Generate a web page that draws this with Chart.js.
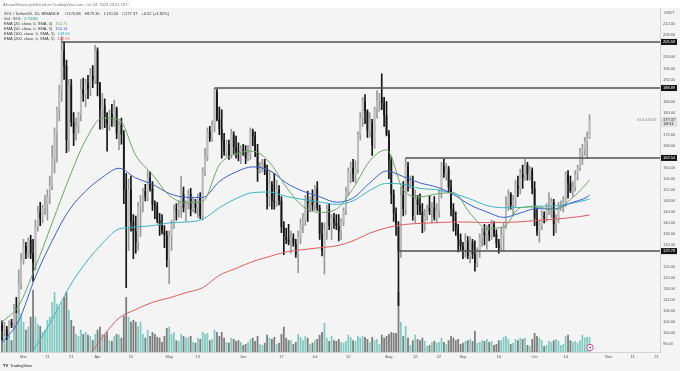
<!DOCTYPE html>
<html>
<head>
<meta charset="utf-8">
<script src="https://cdn.jsdelivr.net/npm/chart.js@4.4.0/dist/chart.umd.min.js"></script>
<style>
  html, body { margin: 0; padding: 0; background: #ffffff; }
</style>
</head>
<body>
<canvas id="myChart" width="680" height="371"></canvas>
<script>
// SOL / USDT daily candles, Feb 21 - Oct 24 2024
const opens = [
  103.0,100.8,101.5,99.0,103.8,102.8,109.0,108.8,118.0,126.5,
  131.5,129.2,133.8,129.0,125.5,138.5,144.0,141.5,145.5,146.5,
  149.5,153.5,163.5,172.5,181.0,188.0,202.5,197.0,170.0,190.0,
  176.5,172.5,175.0,179.5,188.5,186.5,190.5,188.5,193.5,191.5,
  202.5,190.5,181.0,182.5,178.5,176.0,179.5,177.5,181.5,172.5,
  175.5,172.0,152.0,138.5,152.0,140.5,137.0,133.0,146.0,147.5,
  151.5,149.5,156.5,152.5,146.5,146.0,141.0,139.0,137.0,135.5,
  126.5,135.0,139.5,145.0,144.5,146.0,150.5,145.5,147.0,150.5,
  145.0,147.0,145.5,149.5,142.5,158.5,164.0,173.0,170.5,175.5,
  187.5,177.5,174.0,170.0,166.0,168.5,164.5,172.0,167.5,166.0,
  165.5,166.5,166.0,163.5,165.0,173.0,171.5,166.0,159.5,160.5,
  161.5,159.5,149.5,154.0,148.0,147.5,152.0,148.0,138.5,135.0,
  134.0,133.0,134.5,132.5,128.5,135.0,139.5,141.0,148.5,147.0,
  148.5,146.5,152.5,145.5,136.0,130.0,137.5,145.0,139.0,141.5,
  140.0,139.0,137.0,140.5,144.5,151.5,158.5,160.0,157.5,159.5,
  172.0,178.0,184.0,180.5,173.5,176.5,168.0,181.5,184.5,185.5,
  183.5,179.0,172.0,162.5,150.5,143.5,138.5,129.8,150.0,145.0,
  160.5,155.0,155.5,142.5,148.5,146.5,144.0,140.0,142.5,145.5,
  144.0,145.5,142.0,144.5,151.0,160.5,158.0,159.5,153.0,145.0,
  140.0,138.0,134.0,131.5,130.0,133.5,128.0,133.0,128.5,125.5,
  129.5,134.5,136.5,135.5,137.0,135.5,139.5,136.0,132.5,131.0,
  135.5,138.5,146.0,150.5,146.5,148.0,153.5,152.5,157.5,156.5,
  161.0,157.5,159.0,152.5,141.5,137.0,139.0,142.5,142.0,145.5,
  146.0,147.5,139.5,141.5,146.0,146.5,147.5,157.5,154.5,151.5,
  153.0,157.5,160.0,165.5,166.5,169.5,170.86
];
const highs = [
  104.5,104.0,102.5,104.5,105.0,110.5,113.0,123.0,129.0,134.0,
  133.0,134.5,135.5,134.0,141.0,146.0,147.5,146.5,150.0,152.0,
  157.0,168.0,174.5,182.0,190.0,207.5,205.6,199.0,192.0,192.0,
  180.0,178.0,180.0,192.0,192.5,192.0,193.5,196.0,197.0,204.5,
  203.5,191.0,187.0,185.0,180.0,181.0,183.0,184.5,182.0,177.0,
  178.0,173.5,158.0,156.0,157.0,143.0,142.5,147.5,150.0,152.5,
  154.0,159.0,158.5,155.0,148.0,147.5,143.5,143.0,139.0,137.0,
  137.0,141.0,146.5,147.0,148.0,157.0,153.0,148.0,152.0,152.5,
  149.0,148.5,150.5,151.0,160.0,167.0,174.5,175.0,177.0,188.9,
  188.5,182.0,181.0,172.5,170.0,170.0,174.0,173.0,171.5,169.0,
  168.0,168.5,168.0,168.0,174.5,174.0,173.0,168.5,162.0,163.0,
  163.0,161.0,159.0,155.0,158.0,155.5,153.5,149.5,140.5,138.0,
  139.5,137.0,136.0,134.0,137.0,141.5,143.5,150.0,151.5,149.5,
  152.0,153.5,155.0,146.5,140.0,140.0,146.5,147.0,143.0,143.5,
  143.0,143.0,141.5,145.5,153.0,160.0,162.0,163.0,162.5,173.0,
  180.0,185.5,186.5,181.0,180.0,177.5,182.0,188.0,187.0,194.0,
  185.5,184.0,173.5,164.0,152.0,145.5,140.5,153.0,155.0,163.5,
  162.0,157.0,157.0,152.0,150.0,150.5,147.0,145.0,146.5,150.0,
  147.5,149.5,147.0,152.0,162.0,163.0,161.5,160.5,155.5,147.0,
  144.0,139.5,136.0,133.0,136.0,135.0,135.0,134.0,133.5,131.0,
  136.0,138.0,139.5,139.0,139.5,141.0,140.5,137.5,134.0,138.5,
  140.0,149.5,152.0,151.0,150.0,155.5,157.0,159.5,161.0,163.0,
  162.0,160.5,160.0,155.0,145.5,141.0,144.5,144.0,147.0,151.0,
  149.0,148.5,143.0,147.5,148.0,149.5,158.5,159.0,157.0,155.0,
  159.0,161.0,167.0,168.5,171.0,173.0,179.3
];
const lows = [
  97.5,99.0,97.8,98.5,102.0,101.5,107.5,107.0,116.0,125.0,
  127.0,127.5,127.0,118.8,123.0,137.0,139.0,140.0,143.0,141.0,
  147.0,152.0,158.0,162.0,177.0,184.0,192.0,165.5,166.0,175.0,
  168.0,170.0,172.5,177.0,184.0,182.0,185.0,186.0,189.0,190.5,
  186.0,174.0,174.0,174.5,166.0,173.5,175.0,175.0,170.5,166.5,
  168.5,147.0,116.5,130.0,137.0,127.0,129.0,130.0,135.0,144.0,
  148.0,148.0,151.5,144.5,141.5,140.0,135.5,136.0,131.0,124.0,
  118.0,130.0,138.0,141.0,142.0,142.0,144.0,140.5,145.0,142.5,
  144.0,143.5,142.0,141.5,141.0,157.0,162.5,169.5,169.5,173.0,
  177.0,172.0,163.5,164.5,164.0,163.0,163.5,165.0,163.5,162.5,
  161.5,164.5,161.5,162.5,163.0,168.0,164.0,155.0,158.0,158.5,
  157.5,145.0,146.0,145.0,145.0,146.0,146.5,136.5,128.5,132.5,
  132.0,129.0,131.5,127.5,122.0,132.5,136.5,139.0,140.5,144.0,
  144.5,144.5,144.5,134.0,128.0,121.5,134.0,137.5,134.0,138.0,
  137.5,133.5,134.0,139.0,143.0,150.0,154.5,155.0,154.5,158.0,
  170.0,175.0,176.0,171.0,171.0,164.5,167.0,178.0,180.5,181.0,
  175.0,171.5,156.0,147.0,140.5,135.5,110.0,127.5,142.5,143.0,
  151.5,152.5,141.0,140.0,143.0,143.0,136.5,137.0,141.0,143.0,
  140.0,141.0,140.0,142.0,149.0,156.5,155.5,151.0,142.5,137.0,
  135.5,129.5,130.0,127.0,127.5,127.0,125.5,127.0,122.5,124.0,
  127.5,131.5,132.0,130.5,133.5,134.0,135.0,131.0,129.0,130.0,
  130.0,138.0,144.5,145.0,142.5,146.0,149.5,150.5,152.5,155.5,
  155.5,155.5,150.5,139.0,135.5,133.0,137.5,140.0,140.5,143.0,
  142.0,135.5,136.5,140.0,144.5,144.0,146.0,149.0,151.0,149.5,
  151.5,155.5,159.0,161.0,164.5,163.5,170.5
];
const closes = [
  100.8,101.5,99.0,103.8,102.8,109.0,108.8,118.0,126.5,131.5,
  129.2,133.8,129.0,125.5,138.5,144.0,141.5,145.5,146.5,149.5,
  153.5,163.5,172.5,181.0,188.0,202.5,197.0,170.0,190.0,176.5,
  172.5,175.0,179.5,188.5,186.5,190.5,188.5,193.5,191.5,202.5,
  190.5,181.0,182.5,178.5,176.0,179.5,177.5,181.5,172.5,175.5,
  172.0,152.0,138.5,152.0,140.5,137.0,133.0,146.0,147.5,151.5,
  149.5,156.5,152.5,146.5,146.0,141.0,139.0,137.0,135.5,126.5,
  135.0,139.5,145.0,144.5,146.0,150.5,145.5,147.0,150.5,145.0,
  147.0,145.5,149.5,142.5,158.5,164.0,173.0,170.5,175.5,187.5,
  177.5,174.0,170.0,166.0,168.5,164.5,172.0,167.5,166.0,165.5,
  166.5,166.0,163.5,165.0,173.0,171.5,166.0,159.5,160.5,161.5,
  159.5,149.5,154.0,148.0,147.5,152.0,148.0,138.5,135.0,134.0,
  133.0,134.5,132.5,128.5,135.0,139.5,141.0,148.5,147.0,148.5,
  146.5,152.5,145.5,136.0,130.0,137.5,145.0,139.0,141.5,140.0,
  139.0,137.0,140.5,144.5,151.5,158.5,160.0,157.5,159.5,172.0,
  178.0,184.0,180.5,173.5,176.5,168.0,181.5,184.5,185.5,183.5,
  179.0,172.0,162.5,150.5,143.5,138.5,129.8,150.0,145.0,160.5,
  155.0,155.5,142.5,148.5,146.5,144.0,140.0,142.5,145.5,144.0,
  145.5,142.0,144.5,151.0,160.5,158.0,159.5,153.0,145.0,140.0,
  138.0,134.0,131.5,130.0,133.5,128.0,133.0,128.5,125.5,129.5,
  134.5,136.5,135.5,137.0,135.5,139.5,136.0,132.5,131.0,135.5,
  138.5,146.0,150.5,146.5,148.0,153.5,152.5,157.5,156.5,161.0,
  157.5,159.0,152.5,141.5,137.0,139.0,142.5,142.0,145.5,146.0,
  147.5,139.5,141.5,146.0,146.5,147.5,157.5,154.5,151.5,153.0,
  157.5,160.0,165.5,166.5,169.5,170.86,177.37
];
// volume, millions of SOL
const volumes = [
  3.9,4.7,3.7,5.2,3.1,7.9,10.5,13.1,10.0,7.9,
  5.8,6.6,9.2,16.2,9.2,7.3,6.8,5.2,5.8,8.4,
  9.2,13.1,15.7,12.6,11.8,13.1,14.4,15.7,11.0,8.4,
  6.8,4.7,4.2,5.8,4.7,5.2,4.5,4.2,3.1,4.7,
  5.8,6.6,4.7,4.5,5.2,3.1,2.9,4.2,4.7,4.5,
  3.7,9.4,14.4,9.2,7.9,8.4,7.9,6.8,7.9,4.7,
  3.7,5.8,4.2,5.2,4.7,3.9,3.7,2.6,4.2,6.3,
  6.6,4.7,5.2,3.1,2.9,4.7,4.2,3.7,3.9,4.2,
  2.6,2.4,3.7,3.4,5.2,4.7,5.0,3.1,3.4,5.8,
  5.2,4.2,5.2,3.7,2.6,2.4,3.7,3.4,2.9,3.1,
  2.6,1.8,2.1,2.6,3.4,3.7,2.9,4.2,2.1,1.8,
  2.4,4.5,3.7,3.4,3.9,2.1,2.4,4.7,6.6,3.7,
  3.1,3.1,2.1,2.6,4.7,3.9,3.1,4.2,3.7,2.1,
  2.4,3.1,3.4,4.5,5.2,7.6,3.7,2.9,4.2,3.1,
  2.9,3.4,2.6,2.4,2.9,4.5,3.9,3.1,2.9,4.2,
  3.7,4.2,3.9,3.4,2.6,3.9,3.1,3.4,2.1,4.5,
  3.7,4.2,4.7,5.2,5.0,5.0,15.7,7.9,4.2,6.8,
  3.7,1.8,3.1,4.5,3.4,3.1,3.7,2.9,1.6,1.8,
  2.6,2.9,2.4,2.6,3.7,2.6,2.1,3.1,4.2,3.7,
  3.1,3.4,2.1,2.4,2.9,3.1,3.4,2.9,5.5,2.4,
  2.6,3.1,2.9,3.4,2.6,2.9,1.8,2.1,3.1,3.1,
  3.9,4.2,3.4,2.1,2.4,3.4,3.1,3.7,3.4,3.7,
  1.8,1.6,3.4,5.0,4.2,3.7,3.1,1.6,1.8,2.9,
  2.6,3.1,3.4,2.9,1.8,2.1,4.2,4.5,3.1,2.6,
  2.9,2.4,3.1,4.5,3.7,3.9,3.933
];

// EMA lines, every 7th bar
const emaIdx = [0,7,14,21,28,35,42,49,56,63,70,77,84,91,98,105,112,119,126,133,
  140,147,154,161,168,175,182,189,196,203,210,217,224,231,238,245,246];
const ema20 = [104,110,124,140,156,170,178,177.5,164.5,157.5,150,147.3,147.8,161,165,166,162,153,146,143.8,
  145,152.5,162.5,166.5,152,149.4,150.5,151,143.5,138,138.5,145.5,145.8,144.7,148.5,154.5,155.71];
const ema50 = [96.5,104.5,120.5,133.5,144.5,151.5,156.5,159.8,156.3,154,150.7,149.3,149.2,155,158.5,160.3,159,154.5,151.5,149.5,
  147.5,149,154.5,158.8,156.8,154.5,153,150.3,146.5,144,142,143.6,145.2,145,147.2,149.4,150.14];
const ema100 = [null,86,95,105,116.5,125.5,132.5,137.8,138.5,139,140,140.3,141.3,145.5,148.8,151,151.2,149.6,148.5,147.6,
  146.7,148,151.8,154.3,154,152.5,152,150.6,148.7,146.3,145.5,145.6,146.1,146.1,147,148.4,148.63];
const ema200 = [null,null,null,null,null,90,98.5,105.5,108.6,111.2,112.8,114.7,116.5,121,123.5,126,127.8,129.5,130.3,131,
  131.7,133.5,136.3,138.2,139.4,139.8,140.1,140.3,140.3,140.1,140.2,140.4,140.9,141.3,141.9,142.7,142.9];

// horizontal levels drawn on the chart
const levelValues = [205.59, 188.89, 163.54, 129.78];
const levelStarts = ['2024-03-17', '2024-05-20', '2024-08-08', '2024-08-05'];

// axis ticks
const yTicks = [96,100,104,108,112,116,120,124,132,136,140,144,148,152,156,160,168,172,180,184,192,196,200,208,212];
const xTickText = {
  '2024-03-01': 'Mar', '2024-03-11': '11', '2024-03-21': '21', '2024-04-01': 'Apr', '2024-04-15': '15',
  '2024-05-01': 'May', '2024-05-13': '13', '2024-06-01': 'Jun', '2024-06-17': '17', '2024-07-01': 'Jul',
  '2024-07-15': '15', '2024-08-01': 'Aug', '2024-08-12': '12', '2024-08-22': '22', '2024-09-01': 'Sep',
  '2024-09-16': '16', '2024-10-01': 'Oct', '2024-10-14': '14', '2024-11-01': 'Nov', '2024-11-11': '11',
  '2024-11-21': '21'
};

// one category per day, Feb 21 to Nov 22
const dates = [];
for (let d = new Date(Date.UTC(2024, 1, 21)); dates.length < 276; d.setUTCDate(d.getUTCDate() + 1)) {
  dates.push(d.toISOString().slice(0, 10));
}

const FONT = '"Liberation Sans", Arial, sans-serif';
const upBody = '#bdbdbd', upWick = '#9a9a9a', down = '#161616';
const isUp = closes.map((c, i) => c >= opens[i]);

const emaPoints = vals => emaIdx.map((k, j) => ({x: dates[k], y: vals[j]})).filter(p => p.y !== null);

const overlay = {
  id: 'overlay',
  beforeDraw(chart) {
    const {ctx, chartArea: a} = chart;
    ctx.save();
    ctx.fillStyle = '#f4f4f4';
    ctx.fillRect(0, a.top, chart.width, chart.height - a.top);
    ctx.restore();
  },
  afterDatasetsDraw(chart) {
    const {ctx, chartArea: a, scales: {x, y}} = chart;
    ctx.save();
    // price levels
    ctx.strokeStyle = '#505050';
    ctx.lineWidth = 1.5;
    levelValues.forEach((v, k) => {
      const py = y.getPixelForValue(v);
      const px = x.getPixelForValue(dates.indexOf(levelStarts[k]));
      ctx.beginPath();
      ctx.moveTo(px, py);
      ctx.lineTo(a.right, py);
      ctx.stroke();
    });
    // axis tags
    ctx.font = '4px ' + FONT;
    ctx.textBaseline = 'middle';
    ctx.textAlign = 'left';
    levelValues.forEach(v => {
      const py = y.getPixelForValue(v);
      ctx.fillStyle = '#131313';
      ctx.fillRect(a.right + 1, py - 3, 16, 6);
      ctx.fillStyle = '#ffffff';
      ctx.fillText(v.toFixed(2), a.right + 3, py);
    });
    const last = closes[closes.length - 1];
    const ly = y.getPixelForValue(last);
    ctx.fillStyle = '#dedede';
    ctx.fillRect(a.right + 1, ly - 3, 16, 10);
    ctx.fillStyle = '#333333';
    ctx.fillText(last.toFixed(2), a.right + 3, ly);
    ctx.fillText('08:11', a.right + 4, ly + 4.5);
    ctx.fillStyle = '#888888';
    ctx.textAlign = 'right';
    ctx.fillText('SOL/USDT', a.right - 3, ly);
    ctx.textAlign = 'left';
    ctx.fillStyle = '#555555';
    ctx.fillText('USDT', a.right + 4, 12.5);

    // title and legend
    ctx.fillStyle = '#777777';
    ctx.font = '4px ' + FONT;
    ctx.fillText('AltcoinSherpa published on TradingView.com, Oct 24, 2024 23:51 UTC', 3, 4.5);
    const head = ['SOL / TetherUS, 1D, BINANCE', 'O170.86', 'H179.30', 'L170.50', 'C177.37', '+6.52 (+3.82%)'];
    let hx = 4;
    ctx.fillStyle = '#333333';
    head.forEach((t, k) => {
      ctx.fillText(t, hx, 14);
      hx += ctx.measureText(t).width + (k === 0 ? 6 : 4);
    });
    const rows = [
      ['Vol · SOL', '3.933M', '#26a69a'],
      ['EMA (20, close, 0, SMA, 5)', '155.71', '#5c9e52'],
      ['EMA (50, close, 0, SMA, 5)', '150.14', '#2f5bd3'],
      ['EMA (100, close, 0, SMA, 5)', '148.63', '#25a7c0'],
      ['EMA (200, close, 0, SMA, 5)', '142.95', '#e0443e']
    ];
    rows.forEach((r, k) => {
      const ry = 19 + k * 5;
      ctx.fillStyle = '#333333';
      ctx.fillText(r[0], 4, ry);
      ctx.fillStyle = r[2];
      ctx.fillText(r[1], 4 + ctx.measureText(r[0]).width + 3, ry);
    });

    // event marker near the last bar
    ctx.beginPath();
    ctx.arc(590, 347.5, 3.2, 0, Math.PI * 2);
    ctx.fillStyle = '#ffffff';
    ctx.fill();
    ctx.strokeStyle = '#d0509a';
    ctx.lineWidth = 1;
    ctx.stroke();
    ctx.beginPath();
    ctx.arc(590, 347.5, 1.1, 0, Math.PI * 2);
    ctx.fillStyle = '#d0509a';
    ctx.fill();

    // watermark
    ctx.fillStyle = '#222222';
    ctx.font = 'bold 4px ' + FONT;
    ctx.fillText('TV', 3, 366);
    ctx.font = '4px ' + FONT;
    ctx.fillText('TradingView', 10, 366);
    ctx.restore();
  }
};

new Chart(document.getElementById('myChart'), {
  type: 'bar',
  data: {
    labels: dates,
    datasets: [
      {
        label: 'Vol',
        data: volumes,
        yAxisID: 'yVol',
        backgroundColor: isUp.map(u => u ? '#82cbc3' : '#7d7d7d'),
        barPercentage: 0.75,
        categoryPercentage: 1,
        grouped: false,
        order: 10
      },
      {
        label: 'wick',
        data: lows.map((l, i) => [l, highs[i]]),
        yAxisID: 'y',
        backgroundColor: isUp.map(u => u ? upWick : down),
        barThickness: 1,
        grouped: false,
        order: 9
      },
      {
        label: 'body',
        data: opens.map((o, i) => [o, closes[i]]),
        yAxisID: 'y',
        backgroundColor: isUp.map(u => u ? upBody : down),
        borderWidth: 0,
        barPercentage: 0.72,
        categoryPercentage: 1,
        minBarLength: 1,
        grouped: false,
        order: 8
      },
      {type: 'line', label: 'EMA 200', data: emaPoints(ema200), yAxisID: 'y', borderColor: '#e25b5b', borderWidth: 1, pointRadius: 0, spanGaps: true, cubicInterpolationMode: 'monotone', order: 4},
      {type: 'line', label: 'EMA 100', data: emaPoints(ema100), yAxisID: 'y', borderColor: '#3ab5c6', borderWidth: 1, pointRadius: 0, spanGaps: true, cubicInterpolationMode: 'monotone', order: 3},
      {type: 'line', label: 'EMA 50', data: emaPoints(ema50), yAxisID: 'y', borderColor: '#3c5fd4', borderWidth: 1, pointRadius: 0, spanGaps: true, cubicInterpolationMode: 'monotone', order: 2},
      {type: 'line', label: 'EMA 20', data: emaPoints(ema20), yAxisID: 'y', borderColor: '#6aa860', borderWidth: 1, pointRadius: 0, spanGaps: true, cubicInterpolationMode: 'monotone', order: 1}
    ]
  },
  options: {
    responsive: false,
    animation: false,
    events: [],
    layout: {padding: {top: 8, left: 0, right: 0, bottom: 0}},
    plugins: {legend: {display: false}, tooltip: {enabled: false}},
    scales: {
      x: {
        type: 'category',
        offset: true,
        grid: {display: false, drawTicks: false},
        border: {display: true, color: '#d4d4d4'},
        ticks: {
          autoSkip: false, maxRotation: 0, minRotation: 0, padding: 2,
          font: {size: 4, family: FONT}, color: '#555555',
          callback: (val, i) => xTickText[dates[i]] || ''
        },
        afterFit: s => { s.height = 19; }
      },
      y: {
        position: 'right',
        min: 93.2,
        max: 217.9,
        afterBuildTicks: s => { s.ticks = yTicks.map(v => ({value: v})); },
        afterFit: s => { s.width = 20; },
        grid: {display: false, drawTicks: false},
        border: {display: true, color: '#d4d4d4'},
        ticks: {
          padding: 3,
          font: {size: 4, family: FONT}, color: '#555555',
          callback: v => v.toFixed(2)
        }
      },
      yVol: {display: false, min: 0, max: 90}
    }
  },
  plugins: [overlay]
});
</script>
</body>
</html>
